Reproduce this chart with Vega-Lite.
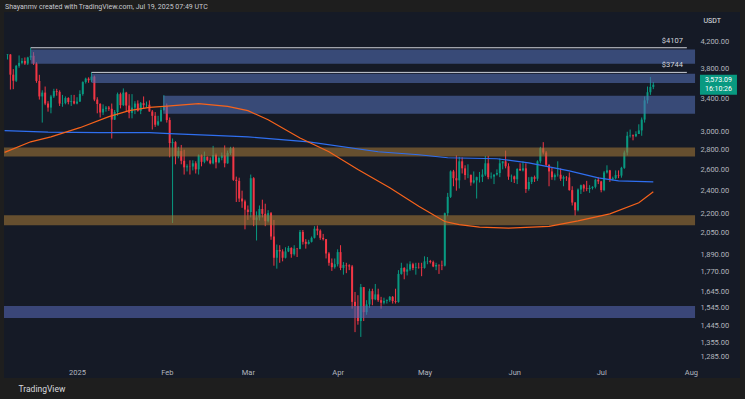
{
"$schema":"https://vega.github.io/schema/vega-lite/v6.json",
"width":736,"height":366,
"autosize":{"type":"none"},
"padding":{"left":4,"top":12,"right":5,"bottom":21},
"background":"#1e1e1e",
"config":{"view":{"fill":"#151a26","stroke":null},"axis":{"grid":false,"domain":false,"ticks":false},"font":"Roboto"},
"title":{"text":"Shayanmv created with TradingView.com, Jul 19, 2025 07:49 UTC","anchor":"start","frame":"group","offset":2,"dx":1,"fontSize":7,"font":"Roboto","fontWeight":"normal","color":"#c8cad0"},
"datasets":{
"candles":[
{"d":"2024-12-08","o":3996,"h":4010,"l":3930,"c":4004},
{"d":"2024-12-09","o":4004,"h":4010,"l":3510,"c":3712},
{"d":"2024-12-10","o":3712,"h":3790,"l":3515,"c":3628},
{"d":"2024-12-11","o":3628,"h":3850,"l":3610,"c":3837},
{"d":"2024-12-12","o":3837,"h":3990,"l":3810,"c":3880},
{"d":"2024-12-13","o":3880,"h":3950,"l":3860,"c":3908},
{"d":"2024-12-14","o":3908,"h":3960,"l":3850,"c":3870},
{"d":"2024-12-15","o":3870,"h":3970,"l":3850,"c":3960},
{"d":"2024-12-16","o":3960,"h":4107,"l":3920,"c":3985},
{"d":"2024-12-17","o":3985,"h":4040,"l":3850,"c":3871},
{"d":"2024-12-18","o":3871,"h":3890,"l":3600,"c":3625},
{"d":"2024-12-19","o":3625,"h":3710,"l":3380,"c":3420},
{"d":"2024-12-20","o":3420,"h":3500,"l":3100,"c":3470},
{"d":"2024-12-21","o":3470,"h":3550,"l":3310,"c":3330},
{"d":"2024-12-22","o":3330,"h":3360,"l":3230,"c":3280},
{"d":"2024-12-23","o":3280,"h":3440,"l":3210,"c":3420},
{"d":"2024-12-24","o":3420,"h":3520,"l":3400,"c":3490},
{"d":"2024-12-25","o":3490,"h":3520,"l":3430,"c":3480},
{"d":"2024-12-26","o":3480,"h":3500,"l":3300,"c":3330},
{"d":"2024-12-27","o":3330,"h":3440,"l":3290,"c":3335},
{"d":"2024-12-28","o":3335,"h":3420,"l":3320,"c":3400},
{"d":"2024-12-29","o":3400,"h":3410,"l":3320,"c":3350},
{"d":"2024-12-30","o":3350,"h":3440,"l":3300,"c":3360},
{"d":"2024-12-31","o":3360,"h":3440,"l":3320,"c":3330},
{"d":"2025-01-01","o":3330,"h":3410,"l":3320,"c":3355},
{"d":"2025-01-02","o":3355,"h":3500,"l":3350,"c":3452},
{"d":"2025-01-03","o":3452,"h":3620,"l":3430,"c":3610},
{"d":"2025-01-04","o":3610,"h":3670,"l":3590,"c":3656},
{"d":"2025-01-05","o":3656,"h":3675,"l":3600,"c":3635},
{"d":"2025-01-06","o":3635,"h":3744,"l":3610,"c":3685},
{"d":"2025-01-07","o":3685,"h":3700,"l":3360,"c":3380},
{"d":"2025-01-08","o":3380,"h":3410,"l":3210,"c":3325},
{"d":"2025-01-09","o":3325,"h":3335,"l":3160,"c":3220},
{"d":"2025-01-10","o":3220,"h":3320,"l":3190,"c":3265},
{"d":"2025-01-11","o":3265,"h":3300,"l":3230,"c":3280},
{"d":"2025-01-12","o":3280,"h":3300,"l":3240,"c":3265},
{"d":"2025-01-13","o":3265,"h":3330,"l":2920,"c":3135},
{"d":"2025-01-14","o":3135,"h":3250,"l":3130,"c":3225},
{"d":"2025-01-15","o":3225,"h":3470,"l":3180,"c":3450},
{"d":"2025-01-16","o":3450,"h":3470,"l":3270,"c":3310},
{"d":"2025-01-17","o":3310,"h":3525,"l":3300,"c":3470},
{"d":"2025-01-18","o":3470,"h":3480,"l":3230,"c":3305},
{"d":"2025-01-19","o":3305,"h":3450,"l":3150,"c":3215},
{"d":"2025-01-20","o":3215,"h":3450,"l":3150,"c":3280},
{"d":"2025-01-21","o":3280,"h":3360,"l":3200,"c":3330},
{"d":"2025-01-22","o":3330,"h":3370,"l":3230,"c":3240},
{"d":"2025-01-23","o":3240,"h":3350,"l":3200,"c":3335},
{"d":"2025-01-24","o":3335,"h":3420,"l":3270,"c":3310},
{"d":"2025-01-25","o":3310,"h":3355,"l":3280,"c":3315},
{"d":"2025-01-26","o":3315,"h":3370,"l":3230,"c":3232},
{"d":"2025-01-27","o":3232,"h":3250,"l":3020,"c":3180},
{"d":"2025-01-28","o":3180,"h":3225,"l":3050,"c":3075},
{"d":"2025-01-29","o":3075,"h":3180,"l":3060,"c":3115},
{"d":"2025-01-30","o":3115,"h":3280,"l":3110,"c":3250},
{"d":"2025-01-31","o":3250,"h":3437,"l":3240,"c":3300},
{"d":"2025-02-01","o":3300,"h":3330,"l":3100,"c":3130},
{"d":"2025-02-02","o":3130,"h":3160,"l":2720,"c":2870},
{"d":"2025-02-03","o":2870,"h":2920,"l":2125,"c":2880},
{"d":"2025-02-04","o":2880,"h":2890,"l":2650,"c":2735},
{"d":"2025-02-05","o":2735,"h":2830,"l":2710,"c":2785},
{"d":"2025-02-06","o":2785,"h":2850,"l":2650,"c":2685},
{"d":"2025-02-07","o":2685,"h":2800,"l":2550,"c":2620},
{"d":"2025-02-08","o":2620,"h":2650,"l":2580,"c":2630},
{"d":"2025-02-09","o":2630,"h":2690,"l":2550,"c":2628},
{"d":"2025-02-10","o":2628,"h":2690,"l":2590,"c":2660},
{"d":"2025-02-11","o":2660,"h":2680,"l":2560,"c":2600},
{"d":"2025-02-12","o":2600,"h":2750,"l":2550,"c":2740},
{"d":"2025-02-13","o":2740,"h":2750,"l":2630,"c":2675},
{"d":"2025-02-14","o":2675,"h":2780,"l":2660,"c":2725},
{"d":"2025-02-15","o":2725,"h":2730,"l":2680,"c":2690},
{"d":"2025-02-16","o":2690,"h":2720,"l":2650,"c":2660},
{"d":"2025-02-17","o":2660,"h":2840,"l":2650,"c":2745},
{"d":"2025-02-18","o":2745,"h":2760,"l":2610,"c":2670},
{"d":"2025-02-19","o":2670,"h":2730,"l":2660,"c":2715},
{"d":"2025-02-20","o":2715,"h":2770,"l":2690,"c":2740},
{"d":"2025-02-21","o":2740,"h":2845,"l":2620,"c":2660},
{"d":"2025-02-22","o":2660,"h":2790,"l":2655,"c":2765},
{"d":"2025-02-23","o":2765,"h":2830,"l":2745,"c":2815},
{"d":"2025-02-24","o":2815,"h":2830,"l":2490,"c":2500},
{"d":"2025-02-25","o":2500,"h":2530,"l":2300,"c":2490},
{"d":"2025-02-26","o":2490,"h":2520,"l":2300,"c":2330},
{"d":"2025-02-27","o":2330,"h":2400,"l":2250,"c":2305},
{"d":"2025-02-28","o":2305,"h":2320,"l":2075,"c":2235},
{"d":"2025-03-01","o":2235,"h":2270,"l":2150,"c":2215},
{"d":"2025-03-02","o":2215,"h":2550,"l":2170,"c":2515},
{"d":"2025-03-03","o":2515,"h":2525,"l":2100,"c":2150},
{"d":"2025-03-04","o":2150,"h":2220,"l":1990,"c":2170},
{"d":"2025-03-05","o":2170,"h":2270,"l":2145,"c":2240},
{"d":"2025-03-06","o":2240,"h":2320,"l":2170,"c":2200},
{"d":"2025-03-07","o":2200,"h":2285,"l":2100,"c":2140},
{"d":"2025-03-08","o":2140,"h":2230,"l":2130,"c":2205},
{"d":"2025-03-09","o":2205,"h":2215,"l":1995,"c":2020},
{"d":"2025-03-10","o":2020,"h":2150,"l":1810,"c":1865},
{"d":"2025-03-11","o":1865,"h":1960,"l":1790,"c":1920},
{"d":"2025-03-12","o":1920,"h":1955,"l":1830,"c":1910},
{"d":"2025-03-13","o":1910,"h":1925,"l":1840,"c":1865},
{"d":"2025-03-14","o":1865,"h":1940,"l":1860,"c":1910},
{"d":"2025-03-15","o":1910,"h":1950,"l":1905,"c":1935},
{"d":"2025-03-16","o":1935,"h":1940,"l":1865,"c":1890},
{"d":"2025-03-17","o":1890,"h":1955,"l":1880,"c":1930},
{"d":"2025-03-18","o":1930,"h":1935,"l":1870,"c":1928},
{"d":"2025-03-19","o":1928,"h":2070,"l":1925,"c":2055},
{"d":"2025-03-20","o":2055,"h":2070,"l":1960,"c":1980},
{"d":"2025-03-21","o":1980,"h":2000,"l":1930,"c":1965},
{"d":"2025-03-22","o":1965,"h":1995,"l":1960,"c":1980},
{"d":"2025-03-23","o":1980,"h":2020,"l":1975,"c":2010},
{"d":"2025-03-24","o":2010,"h":2100,"l":2005,"c":2080},
{"d":"2025-03-25","o":2080,"h":2105,"l":2030,"c":2065},
{"d":"2025-03-26","o":2065,"h":2075,"l":1995,"c":2010},
{"d":"2025-03-27","o":2010,"h":2040,"l":1990,"c":2000},
{"d":"2025-03-28","o":2000,"h":2000,"l":1860,"c":1895},
{"d":"2025-03-29","o":1895,"h":1905,"l":1810,"c":1830},
{"d":"2025-03-30","o":1830,"h":1860,"l":1775,"c":1800},
{"d":"2025-03-31","o":1800,"h":1860,"l":1790,"c":1820},
{"d":"2025-04-01","o":1820,"h":1925,"l":1805,"c":1905},
{"d":"2025-04-02","o":1905,"h":1955,"l":1780,"c":1795},
{"d":"2025-04-03","o":1795,"h":1835,"l":1750,"c":1815},
{"d":"2025-04-04","o":1815,"h":1830,"l":1760,"c":1812},
{"d":"2025-04-05","o":1812,"h":1820,"l":1780,"c":1805},
{"d":"2025-04-06","o":1805,"h":1815,"l":1540,"c":1580},
{"d":"2025-04-07","o":1580,"h":1640,"l":1410,"c":1555},
{"d":"2025-04-08","o":1555,"h":1620,"l":1450,"c":1470},
{"d":"2025-04-09","o":1470,"h":1690,"l":1385,"c":1670},
{"d":"2025-04-10","o":1670,"h":1670,"l":1470,"c":1520},
{"d":"2025-04-11","o":1520,"h":1590,"l":1505,"c":1565},
{"d":"2025-04-12","o":1565,"h":1660,"l":1545,"c":1645},
{"d":"2025-04-13","o":1645,"h":1660,"l":1560,"c":1595},
{"d":"2025-04-14","o":1595,"h":1690,"l":1590,"c":1625},
{"d":"2025-04-15","o":1625,"h":1660,"l":1580,"c":1590},
{"d":"2025-04-16","o":1590,"h":1610,"l":1540,"c":1575},
{"d":"2025-04-17","o":1575,"h":1605,"l":1565,"c":1585},
{"d":"2025-04-18","o":1585,"h":1595,"l":1570,"c":1590},
{"d":"2025-04-19","o":1590,"h":1615,"l":1580,"c":1610},
{"d":"2025-04-20","o":1610,"h":1615,"l":1570,"c":1585},
{"d":"2025-04-21","o":1585,"h":1660,"l":1570,"c":1580},
{"d":"2025-04-22","o":1580,"h":1780,"l":1575,"c":1755},
{"d":"2025-04-23","o":1755,"h":1830,"l":1750,"c":1795},
{"d":"2025-04-24","o":1795,"h":1800,"l":1720,"c":1770},
{"d":"2025-04-25","o":1770,"h":1825,"l":1745,"c":1785},
{"d":"2025-04-26","o":1785,"h":1840,"l":1775,"c":1820},
{"d":"2025-04-27","o":1820,"h":1830,"l":1780,"c":1795},
{"d":"2025-04-28","o":1795,"h":1830,"l":1750,"c":1800},
{"d":"2025-04-29","o":1800,"h":1830,"l":1790,"c":1798},
{"d":"2025-04-30","o":1798,"h":1830,"l":1740,"c":1795},
{"d":"2025-05-01","o":1795,"h":1875,"l":1790,"c":1840},
{"d":"2025-05-02","o":1840,"h":1870,"l":1820,"c":1842},
{"d":"2025-05-03","o":1842,"h":1850,"l":1825,"c":1835},
{"d":"2025-05-04","o":1835,"h":1845,"l":1800,"c":1805},
{"d":"2025-05-05","o":1805,"h":1830,"l":1780,"c":1815},
{"d":"2025-05-06","o":1815,"h":1820,"l":1755,"c":1813},
{"d":"2025-05-07","o":1813,"h":1845,"l":1780,"c":1810},
{"d":"2025-05-08","o":1810,"h":2210,"l":1805,"c":2205},
{"d":"2025-05-09","o":2205,"h":2380,"l":2180,"c":2345},
{"d":"2025-05-10","o":2345,"h":2590,"l":2335,"c":2580},
{"d":"2025-05-11","o":2580,"h":2595,"l":2440,"c":2515},
{"d":"2025-05-12","o":2515,"h":2740,"l":2400,"c":2495},
{"d":"2025-05-13","o":2495,"h":2725,"l":2420,"c":2680},
{"d":"2025-05-14","o":2680,"h":2720,"l":2560,"c":2610},
{"d":"2025-05-15","o":2610,"h":2640,"l":2500,"c":2545},
{"d":"2025-05-16","o":2545,"h":2650,"l":2515,"c":2547},
{"d":"2025-05-17","o":2547,"h":2550,"l":2445,"c":2475},
{"d":"2025-05-18","o":2475,"h":2580,"l":2465,"c":2495},
{"d":"2025-05-19","o":2495,"h":2530,"l":2330,"c":2525},
{"d":"2025-05-20","o":2525,"h":2575,"l":2475,"c":2527},
{"d":"2025-05-21","o":2527,"h":2600,"l":2480,"c":2550},
{"d":"2025-05-22","o":2550,"h":2735,"l":2535,"c":2660},
{"d":"2025-05-23","o":2660,"h":2735,"l":2505,"c":2525},
{"d":"2025-05-24","o":2525,"h":2570,"l":2510,"c":2530},
{"d":"2025-05-25","o":2530,"h":2550,"l":2460,"c":2550},
{"d":"2025-05-26","o":2550,"h":2600,"l":2540,"c":2565},
{"d":"2025-05-27","o":2565,"h":2710,"l":2525,"c":2660},
{"d":"2025-05-28","o":2660,"h":2680,"l":2600,"c":2680},
{"d":"2025-05-29","o":2680,"h":2790,"l":2610,"c":2630},
{"d":"2025-05-30","o":2630,"h":2660,"l":2500,"c":2530},
{"d":"2025-05-31","o":2530,"h":2550,"l":2480,"c":2532},
{"d":"2025-06-01","o":2532,"h":2540,"l":2470,"c":2505},
{"d":"2025-06-02","o":2505,"h":2610,"l":2460,"c":2605},
{"d":"2025-06-03","o":2605,"h":2660,"l":2585,"c":2590},
{"d":"2025-06-04","o":2590,"h":2680,"l":2580,"c":2610},
{"d":"2025-06-05","o":2610,"h":2660,"l":2380,"c":2415},
{"d":"2025-06-06","o":2415,"h":2525,"l":2400,"c":2480},
{"d":"2025-06-07","o":2480,"h":2530,"l":2460,"c":2525},
{"d":"2025-06-08","o":2525,"h":2540,"l":2480,"c":2510},
{"d":"2025-06-09","o":2510,"h":2690,"l":2490,"c":2680},
{"d":"2025-06-10","o":2680,"h":2830,"l":2660,"c":2815},
{"d":"2025-06-11","o":2815,"h":2880,"l":2750,"c":2770},
{"d":"2025-06-12","o":2770,"h":2785,"l":2630,"c":2645},
{"d":"2025-06-13","o":2645,"h":2650,"l":2440,"c":2580},
{"d":"2025-06-14","o":2580,"h":2615,"l":2500,"c":2525},
{"d":"2025-06-15","o":2525,"h":2560,"l":2495,"c":2545},
{"d":"2025-06-16","o":2545,"h":2680,"l":2530,"c":2548},
{"d":"2025-06-17","o":2548,"h":2610,"l":2490,"c":2510},
{"d":"2025-06-18","o":2510,"h":2540,"l":2440,"c":2525},
{"d":"2025-06-19","o":2525,"h":2535,"l":2490,"c":2522},
{"d":"2025-06-20","o":2522,"h":2570,"l":2400,"c":2405},
{"d":"2025-06-21","o":2405,"h":2440,"l":2270,"c":2295},
{"d":"2025-06-22","o":2295,"h":2300,"l":2185,"c":2230},
{"d":"2025-06-23","o":2230,"h":2420,"l":2220,"c":2410},
{"d":"2025-06-24","o":2410,"h":2455,"l":2370,"c":2450},
{"d":"2025-06-25","o":2450,"h":2460,"l":2390,"c":2420},
{"d":"2025-06-26","o":2420,"h":2490,"l":2395,"c":2415},
{"d":"2025-06-27","o":2415,"h":2450,"l":2380,"c":2425},
{"d":"2025-06-28","o":2425,"h":2440,"l":2410,"c":2435},
{"d":"2025-06-29","o":2435,"h":2510,"l":2420,"c":2500},
{"d":"2025-06-30","o":2500,"h":2525,"l":2460,"c":2485},
{"d":"2025-07-01","o":2485,"h":2490,"l":2385,"c":2405},
{"d":"2025-07-02","o":2405,"h":2585,"l":2395,"c":2570},
{"d":"2025-07-03","o":2570,"h":2640,"l":2560,"c":2590},
{"d":"2025-07-04","o":2590,"h":2595,"l":2480,"c":2505},
{"d":"2025-07-05","o":2505,"h":2530,"l":2495,"c":2515},
{"d":"2025-07-06","o":2515,"h":2590,"l":2505,"c":2545},
{"d":"2025-07-07","o":2545,"h":2590,"l":2515,"c":2540},
{"d":"2025-07-08","o":2540,"h":2625,"l":2520,"c":2615},
{"d":"2025-07-09","o":2615,"h":2790,"l":2605,"c":2770},
{"d":"2025-07-10","o":2770,"h":2995,"l":2740,"c":2950},
{"d":"2025-07-11","o":2950,"h":3020,"l":2930,"c":2955},
{"d":"2025-07-12","o":2955,"h":2965,"l":2900,"c":2945},
{"d":"2025-07-13","o":2945,"h":3000,"l":2935,"c":2970},
{"d":"2025-07-14","o":2970,"h":3080,"l":2970,"c":3010},
{"d":"2025-07-15","o":3010,"h":3160,"l":2950,"c":3135},
{"d":"2025-07-16","o":3135,"h":3420,"l":3100,"c":3370},
{"d":"2025-07-17","o":3370,"h":3550,"l":3330,"c":3475},
{"d":"2025-07-18","o":3475,"h":3680,"l":3440,"c":3545},
{"d":"2025-07-19","o":3545,"h":3610,"l":3515,"c":3573.09}
],
"zones":[
{"d":"2024-12-16","d1":"2025-08-02T10:00:00Z","p1":3866,"p2":4080,"k":"blue"},
{"d":"2025-01-06","d1":"2025-08-02T10:00:00Z","p1":3598,"p2":3725,"k":"blue"},
{"d":"2025-01-30T18:00:00Z","d1":"2025-08-02T10:00:00Z","p1":3205,"p2":3430,"k":"blue"},
{"d":"2024-12-01","d1":"2025-08-02T10:00:00Z","p1":2728,"p2":2822,"k":"brown"},
{"d":"2024-12-01","d1":"2025-08-02T10:00:00Z","p1":2107,"p2":2188,"k":"brown"},
{"d":"2024-12-01","d1":"2025-08-02T10:00:00Z","p1":1487,"p2":1556,"k":"indigo"}
],
"levels":[
{"d":"2024-12-16","d1":"2025-07-30T14:00:00Z","p":4107,"label":"$4107"},
{"d":"2025-01-06","d1":"2025-07-30T14:00:00Z","p":3744,"label":"$3744"}
],
"ma":[
{"d":"2024-12-07","v":3008,"s":"MA200"},
{"d":"2024-12-22","v":2990,"s":"MA200"},
{"d":"2025-01-09","v":2986,"s":"MA200"},
{"d":"2025-01-26","v":2986,"s":"MA200"},
{"d":"2025-02-02","v":2975,"s":"MA200"},
{"d":"2025-02-19","v":2952,"s":"MA200"},
{"d":"2025-03-01","v":2938,"s":"MA200"},
{"d":"2025-03-22","v":2884,"s":"MA200"},
{"d":"2025-04-15","v":2778,"s":"MA200"},
{"d":"2025-04-29","v":2747,"s":"MA200"},
{"d":"2025-05-09","v":2716,"s":"MA200"},
{"d":"2025-05-26","v":2706,"s":"MA200"},
{"d":"2025-06-06","v":2665,"s":"MA200"},
{"d":"2025-06-20","v":2586,"s":"MA200"},
{"d":"2025-06-30","v":2518,"s":"MA200"},
{"d":"2025-07-07","v":2490,"s":"MA200"},
{"d":"2025-07-19","v":2480,"s":"MA200"},
{"d":"2024-12-07","v":2771,"s":"MA100"},
{"d":"2024-12-16","v":2884,"s":"MA100"},
{"d":"2024-12-23","v":2938,"s":"MA100"},
{"d":"2025-01-02","v":3041,"s":"MA100"},
{"d":"2025-01-12","v":3170,"s":"MA100"},
{"d":"2025-01-19","v":3242,"s":"MA100"},
{"d":"2025-01-26","v":3283,"s":"MA100"},
{"d":"2025-01-31","v":3295,"s":"MA100"},
{"d":"2025-02-12","v":3329,"s":"MA100"},
{"d":"2025-02-22","v":3295,"s":"MA100"},
{"d":"2025-03-01","v":3242,"s":"MA100"},
{"d":"2025-03-08","v":3134,"s":"MA100"},
{"d":"2025-03-19","v":2926,"s":"MA100"},
{"d":"2025-03-29","v":2778,"s":"MA100"},
{"d":"2025-04-08","v":2598,"s":"MA100"},
{"d":"2025-04-19","v":2427,"s":"MA100"},
{"d":"2025-04-29","v":2264,"s":"MA100"},
{"d":"2025-05-08","v":2137,"s":"MA100"},
{"d":"2025-05-13","v":2113,"s":"MA100"},
{"d":"2025-05-20","v":2093,"s":"MA100"},
{"d":"2025-05-30","v":2085,"s":"MA100"},
{"d":"2025-06-13","v":2098,"s":"MA100"},
{"d":"2025-06-23","v":2143,"s":"MA100"},
{"d":"2025-07-04","v":2200,"s":"MA100"},
{"d":"2025-07-14","v":2293,"s":"MA100"},
{"d":"2025-07-19","v":2390,"s":"MA100"}
],
"lastprice":[{"d":"2025-08-10T12:00:00Z","price":3573.09,"time":"16:10:26"}]
},
"encoding":{
"x":{"field":"d","type":"temporal",
"scale":{"type":"utc","padding":0,"domain":[{"year":2024,"month":12,"date":6,"hours":19,"utc":true},{"year":2025,"month":8,"date":17,"hours":22,"minutes":30,"utc":true}]},
"axis":{"orient":"bottom","offset":-12,
"values":[{"year":2025,"month":1,"date":1,"utc":true},{"year":2025,"month":2,"date":1,"utc":true},{"year":2025,"month":3,"date":1,"utc":true},{"year":2025,"month":4,"date":1,"utc":true},{"year":2025,"month":5,"date":1,"utc":true},{"year":2025,"month":6,"date":1,"utc":true},{"year":2025,"month":7,"date":1,"utc":true},{"year":2025,"month":8,"date":1,"utc":true}],
"labelExpr":"utcFormat(datum.value,'%m')=='01' ? '2025' : utcFormat(datum.value,'%b')",
"labelColor":"#b2b5be","labelFontSize":7.5,"labelPadding":2,"labelFlush":false,"labelOverlap":false,
"title":"TradingView","titleAnchor":"start","titleX":14,"titleY":22,"titleAlign":"left","titleBaseline":"middle","titleColor":"#d8dadf","titleFontSize":8.5,"titleFontWeight":"normal"}}
},
"layer":[
{"data":{"name":"candles"},"mark":{"type":"rule","strokeWidth":1},
"encoding":{
"y":{"field":"l","type":"quantitative","scale":{"type":"log","domain":[1186.7,4698],"nice":false},
"axis":{"orient":"right","offset":-43,"values":[4200,3800,3400,3000,2800,2600,2400,2200,2050,1890,1770,1645,1545,1445,1355,1285],"format":",.2f","labelAlign":"left","labelBaseline":"middle","labelPadding":3,"labelColor":"#b2b5be","labelFontSize":7.5,"labelOverlap":false,"labelBound":false,"labelFlush":false,
"title":"USDT","titleAngle":0,"titleX":6,"titleY":8,"titleAlign":"left","titleBaseline":"middle","titleFontSize":7,"titleColor":"#e0e2e6","titleFontWeight":"normal"}},
"y2":{"field":"h"},
"color":{"condition":{"test":"datum.c >= datum.o","value":"#089981"},"value":"#f23645"}}},
{"data":{"name":"candles"},"mark":{"type":"bar","size":2},
"encoding":{
"y":{"field":"o","type":"quantitative"},
"y2":{"field":"c"},
"color":{"condition":{"test":"datum.c >= datum.o","value":"#089981"},"value":"#f23645"}}},
{"data":{"name":"zones"},"mark":{"type":"rect","clip":true,"opacity":0.57},
"encoding":{
"x2":{"field":"d1"},
"y":{"field":"p1","type":"quantitative"},
"y2":{"field":"p2"},
"color":{"field":"k","type":"nominal","scale":{"domain":["blue","brown","indigo"],"range":["#536fb5","#a37737","#5667b7"]},"legend":null}}},
{"data":{"name":"ma"},"mark":{"type":"line","strokeWidth":1.2,"clip":true},
"encoding":{
"y":{"field":"v","type":"quantitative"},
"stroke":{"field":"s","type":"nominal","scale":{"domain":["MA100","MA200"],"range":["#f7631b","#2f6ff0"]},"legend":null}}},
{"data":{"name":"levels"},"mark":{"type":"rule","strokeWidth":1,"color":"#cfd2da"},
"encoding":{
"x2":{"field":"d1"},
"y":{"field":"p","type":"quantitative"}}},
{"data":{"name":"levels"},"mark":{"type":"text","align":"right","baseline":"bottom","dx":-4,"dy":-3,"fontSize":7.5,"color":"#d1d4dc"},
"encoding":{
"x":{"field":"d1","type":"temporal"},
"y":{"field":"p","type":"quantitative"},
"text":{"field":"label"}}},
{"data":{"name":"lastprice"},"mark":{"type":"point","shape":"M-1,-0.54L1,-0.54L1,0.54L-1,0.54Z","size":1369,"filled":true,"opacity":1,"color":"#089981"},
"encoding":{
"y":{"field":"price","type":"quantitative"}}},
{"data":{"name":"lastprice"},"mark":{"type":"text","baseline":"middle","align":"center","dy":-4.5,"fontSize":7,"color":"#ffffff"},
"encoding":{
"y":{"field":"price","type":"quantitative"},
"text":{"field":"price","type":"quantitative","format":",.2f"}}},
{"data":{"name":"lastprice"},"mark":{"type":"text","baseline":"middle","align":"center","dy":4.5,"fontSize":7,"color":"#ffffff"},
"encoding":{
"y":{"field":"price","type":"quantitative"},
"text":{"field":"time"}}}
]
}
